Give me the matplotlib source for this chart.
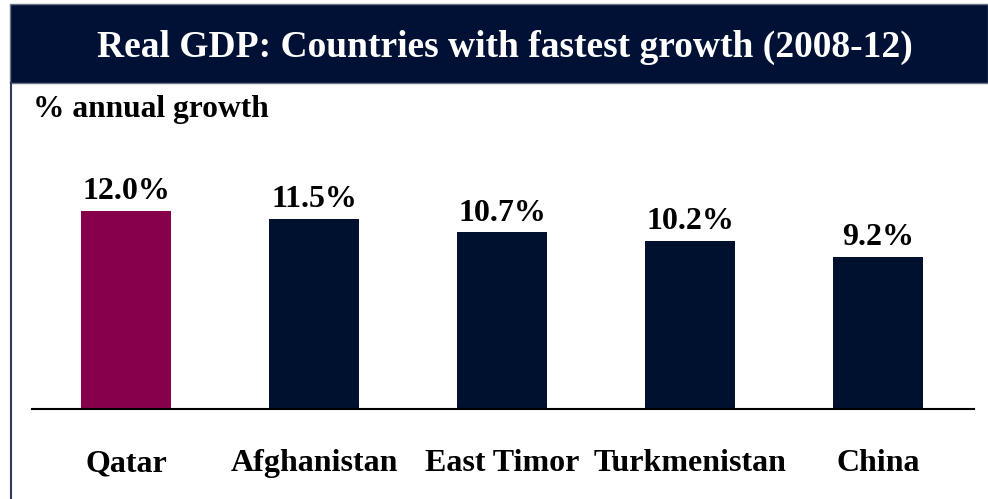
import matplotlib.pyplot as plt
from matplotlib.patches import Rectangle
from matplotlib.lines import Line2D
from matplotlib.transforms import blended_transform_factory

countries = ["Qatar", "Afghanistan", "East Timor", "Turkmenistan", "China"]
growth = [12.0, 11.5, 10.7, 10.2, 9.2]
bar_colors = ["#87004B", "#00112F", "#00112F", "#00112F", "#00112F"]

W, H = 988, 499
plt.rcParams['font.family'] = ['Liberation Serif', 'DejaVu Serif']
plt.rcParams['font.weight'] = 'bold'

fig = plt.figure(figsize=(W / 100, H / 100), dpi=100)

def fx(px):
    return px / W

def fy(py):
    return 1 - py / H

# header band and left frame line
fig.patches.append(Rectangle((fx(10), fy(83)), fx(978), 79 / H, transform=fig.transFigure,
                             facecolor="#001135", edgecolor="#6b7386", linewidth=1.0, zorder=0))
fig.lines.append(Line2D([fx(10.5), fx(10.5)], [fy(83), 0], transform=fig.transFigure,
                        color="#2e3a58", linewidth=1.5))

fig.text(fx(505), fy(57), "Real GDP: Countries with fastest growth (2008-12)",
         ha="center", va="baseline", color="white", fontsize=27, fontweight="bold")
fig.text(fx(33), fy(117), "% annual growth", ha="left", va="baseline",
         color="black", fontsize=22.7, fontweight="bold")

ax = fig.add_axes([fx(32), fy(409), fx(974 - 32), (409 - 140) / H])
x = range(len(countries))
bars = ax.bar(x, growth, width=0.48, color=bar_colors)
ax.set_xlim(-0.5, 4.51)
ax.set_ylim(0, 269 / 16.5)

for b, v in zip(bars, growth):
    ax.annotate(f"{v:.1f}%", (b.get_x() + b.get_width() / 2, v),
                xytext=(0, 8.5), textcoords="offset points",
                ha="center", va="baseline", fontsize=23, fontweight="bold")

trans = blended_transform_factory(ax.transData, fig.transFigure)
for i, name in enumerate(countries):
    ax.text(i, fy(471), name, transform=trans, ha="center", va="baseline",
            fontsize=23, fontweight="bold")

for s in ["top", "right", "left"]:
    ax.spines[s].set_visible(False)
ax.spines["bottom"].set_linewidth(1.5)
ax.set_xticks([])
ax.set_yticks([])

fig.savefig("out.png", dpi=100)
